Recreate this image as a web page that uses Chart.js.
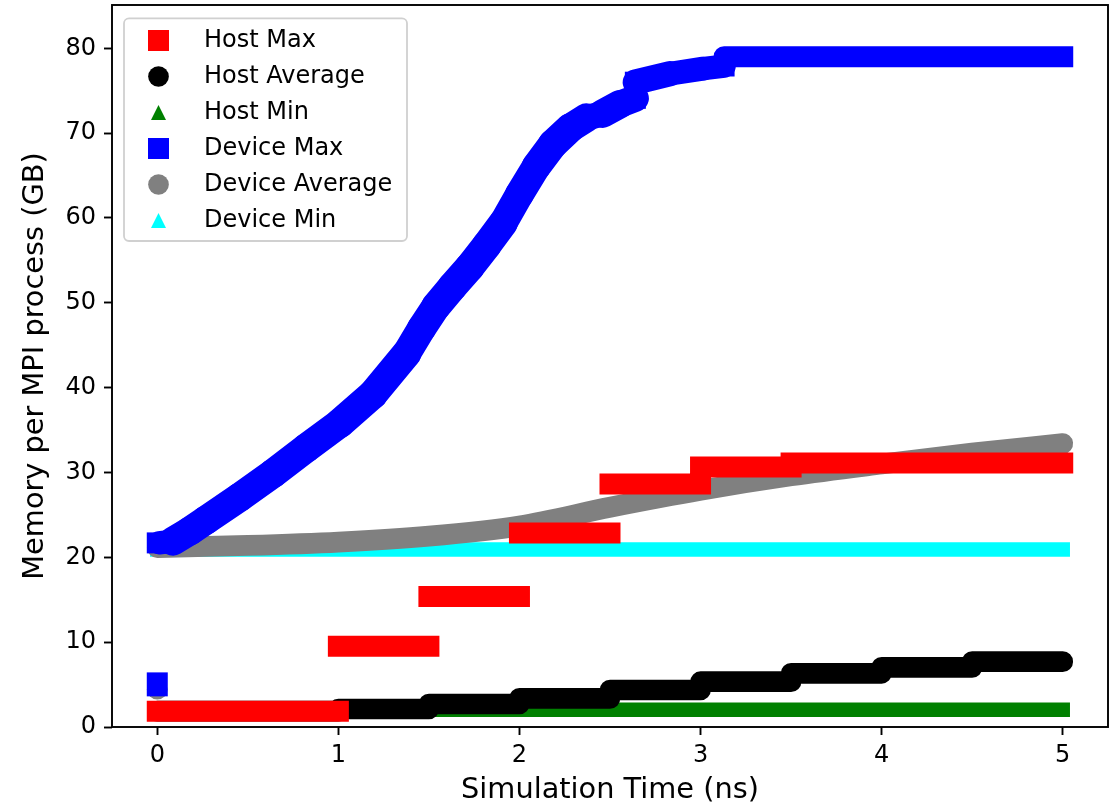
<!DOCTYPE html>
<html>
<head>
<meta charset="utf-8">
<script src="https://cdn.jsdelivr.net/npm/chart.js@4.4.1/dist/chart.umd.min.js"></script>
<style>
  html, body { margin: 0; padding: 0; background: #ffffff; }
  canvas { display: block; }
</style>
</head>
<body>
<canvas id="memChart" width="1114" height="808"></canvas>
<script>
// Memory per MPI process (GB) against simulation time (ns)

const xTicks = [0, 1, 2, 3, 4, 5];
const yTicks = [0, 10, 20, 30, 40, 50, 60, 70, 80];

// Host Max: value held over each [start, end] interval
const hostMaxStart = [0.0, 1.0, 1.5, 2.0, 2.5, 3.0, 3.5];
const hostMaxEnd   = [1.0, 1.5, 2.0, 2.5, 3.0, 3.5, 5.0];
const hostMaxGB    = [1.86, 9.53, 15.37, 22.86, 28.64, 30.65, 31.12];

// Host Average: value held over each interval
const hostAvgStart = [0.0, 1.0, 1.5, 2.0, 2.5, 3.0, 3.5, 4.0, 4.5];
const hostAvgEnd   = [1.0, 1.5, 2.0, 2.5, 3.0, 3.5, 4.0, 4.5, 5.0];
const hostAvgGB    = [1.86, 2.12, 2.71, 3.38, 4.36, 5.34, 6.33, 7.03, 7.70];

// Host Min
const hostMinStart = [0.0];
const hostMinEnd   = [5.0];
const hostMinGB    = [2.04];

// Device Max: initial samples at t = 0, then the run
const devMaxInitT  = [0.0, 0.0];
const devMaxInitGB = [4.85, 5.2];
const devMaxT  = [0.0, 0.01, 0.087, 0.18, 0.27, 0.456, 0.64, 0.824, 1.008, 1.19,
                  1.376, 1.46, 1.54, 1.63, 1.725, 1.82, 1.91, 2.0, 2.094, 2.185,
                  2.28, 2.37, 2.46, 2.554, 2.64, 2.64, 2.83, 3.014, 3.13, 3.13, 5.0];
const devMaxGB = [21.7, 21.7, 21.9, 23.1, 24.4, 27.1, 29.9, 32.9, 35.8, 39.2,
                  44.0, 47.0, 49.6, 51.9, 54.2, 56.8, 59.4, 62.8, 66.1, 68.7,
                  70.6, 71.8, 72.3, 73.4, 74.1, 76.0, 77.0, 77.6, 77.9, 79.0, 79.0];

// Device Average: initial sample at t = 0, then the run
const devAvgInitT  = [0.0];
const devAvgInitGB = [4.45];
const devAvgT  = [0.0, 0.5, 1.0, 1.5, 2.0, 2.5, 3.0, 3.5, 4.0, 4.5, 5.0];
const devAvgGB = [21.15, 21.4, 21.8, 22.5, 23.7, 25.9, 27.9, 29.6, 31.0, 32.3, 33.4];

// Device Min
const devMinStart = [0.0];
const devMinEnd   = [5.0];
const devMinGB    = [20.91];

const seriesLabels  = ['Host Max', 'Host Average', 'Host Min', 'Device Max', 'Device Average', 'Device Min'];
const seriesColors  = ['#ff0000', '#000000', '#008000', '#0000ff', '#808080', '#00ffff'];
const seriesMarkers = ['square', 'circle', 'triangle', 'square', 'circle', 'triangle'];

// Marker sizes in px
const SQUARE = 21;
const CIRCLE = 20.7;
const TRIANGLE = 14.5;

const FONT = '"DejaVu Sans", "Liberation Sans", sans-serif';
Chart.defaults.font.family = FONT;
Chart.defaults.font.size = 24;
Chart.defaults.color = '#000000';

// ---- build point lists ----
function steps(starts, ends, vals) {
  const pts = [];
  for (let i = 0; i < vals.length; i++) {
    pts.push({ x: starts[i], y: vals[i] });
    pts.push({ x: ends[i], y: vals[i] });
    pts.push({ x: ends[i], y: null });
  }
  return pts;
}
function trace(ts, vals) {
  return ts.map((t, i) => ({ x: t, y: vals[i] }));
}
function gap(pts) {
  const last = pts[pts.length - 1];
  return [...pts, { x: last.x, y: null }];
}

// isolated samples get a marker of their own
function isolatedRadius(r) {
  return ctx => {
    const d = ctx.dataset.data;
    const i = ctx.dataIndex;
    if (d[i] == null || d[i].y === null) return 0;
    const prev = d[i - 1], next = d[i + 1];
    const iso = (!prev || prev.y === null) && (!next || next.y === null);
    return iso ? r : 0;
  };
}

// a band of square markers is wider where it climbs
function squareBandWidth(ctx) {
  const dx = Math.abs(ctx.p1.x - ctx.p0.x);
  const dy = Math.abs(ctx.p1.y - ctx.p0.y);
  const len = Math.hypot(dx, dy);
  if (!len) return SQUARE;
  return SQUARE * (dx + dy) / len;
}
function squareBandCap(ctx) {
  const dx = Math.abs(ctx.p1.x - ctx.p0.x);
  const dy = Math.abs(ctx.p1.y - ctx.p0.y);
  return (dx < 0.5 || dy < 0.5) ? 'square' : 'round';
}

const datasets = [
  {
    label: seriesLabels[0],
    data: steps(hostMaxStart, hostMaxEnd, hostMaxGB),
    borderColor: seriesColors[0],
    backgroundColor: seriesColors[0],
    borderWidth: SQUARE,
    borderCapStyle: 'square',
    borderJoinStyle: 'miter'
  },
  {
    label: seriesLabels[1],
    data: steps(hostAvgStart, hostAvgEnd, hostAvgGB),
    borderColor: seriesColors[1],
    backgroundColor: seriesColors[1],
    borderWidth: CIRCLE,
    borderCapStyle: 'round',
    borderJoinStyle: 'round'
  },
  {
    label: seriesLabels[2],
    data: steps(hostMinStart, hostMinEnd, hostMinGB),
    borderColor: seriesColors[2],
    backgroundColor: seriesColors[2],
    borderWidth: TRIANGLE,
    borderCapStyle: 'square'
  },
  {
    label: seriesLabels[3],
    data: [...gap(trace(devMaxInitT, devMaxInitGB)), ...trace(devMaxT, devMaxGB)],
    borderColor: seriesColors[3],
    backgroundColor: seriesColors[3],
    borderWidth: SQUARE,
    borderCapStyle: 'square',
    borderJoinStyle: 'round',
    segment: { borderWidth: squareBandWidth, borderCapStyle: squareBandCap }
  },
  {
    label: seriesLabels[4],
    data: [...gap(trace(devAvgInitT, devAvgInitGB)), ...trace(devAvgT, devAvgGB)],
    borderColor: seriesColors[4],
    backgroundColor: seriesColors[4],
    borderWidth: CIRCLE,
    borderCapStyle: 'round',
    borderJoinStyle: 'round',
    cubicInterpolationMode: 'monotone',
    pointRadius: isolatedRadius(CIRCLE / 2),
    pointBorderWidth: 0,
    pointStyle: 'circle'
  },
  {
    label: seriesLabels[5],
    data: steps(devMinStart, devMinEnd, devMinGB),
    borderColor: seriesColors[5],
    backgroundColor: seriesColors[5],
    borderWidth: TRIANGLE,
    borderCapStyle: 'square'
  }
];

datasets.forEach(ds => {
  ds.showLine = true;
  ds.spanGaps = false;
  if (ds.pointRadius === undefined) ds.pointRadius = 0;
  ds.pointHoverRadius = 0;
});

// ---- plugins ----
const framePlugin = {
  id: 'frame',
  afterDatasetsDraw(chart) {
    const { ctx, chartArea: a } = chart;
    ctx.save();
    ctx.strokeStyle = '#000000';
    ctx.lineWidth = 1.9;
    ctx.strokeRect(a.left, a.top, a.right - a.left, a.bottom - a.top);
    ctx.restore();
  }
};

function drawMarker(ctx, kind, cx, cy, color) {
  ctx.fillStyle = color;
  ctx.beginPath();
  if (kind === 'square') {
    ctx.rect(cx - SQUARE / 2, cy - SQUARE / 2, SQUARE, SQUARE);
  } else if (kind === 'circle') {
    ctx.arc(cx, cy, CIRCLE / 2, 0, Math.PI * 2);
  } else {
    const h = 15;
    ctx.moveTo(cx, cy - h / 2);
    ctx.lineTo(cx + h / 2, cy + h / 2);
    ctx.lineTo(cx - h / 2, cy + h / 2);
    ctx.closePath();
  }
  ctx.fill();
}

const legendPlugin = {
  id: 'boxLegend',
  afterDraw(chart) {
    const { ctx, chartArea: a } = chart;
    const x0 = a.left + 12, y0 = a.top + 13.3;
    const w = 283, h = 222.7, r = 5;
    ctx.save();
    ctx.beginPath();
    ctx.moveTo(x0 + r, y0);
    ctx.arcTo(x0 + w, y0, x0 + w, y0 + h, r);
    ctx.arcTo(x0 + w, y0 + h, x0, y0 + h, r);
    ctx.arcTo(x0, y0 + h, x0, y0, r);
    ctx.arcTo(x0, y0, x0 + w, y0, r);
    ctx.closePath();
    ctx.fillStyle = 'rgba(255,255,255,0.8)';
    ctx.fill();
    ctx.strokeStyle = '#d0d0d0';
    ctx.lineWidth = 1.8;
    ctx.stroke();

    ctx.font = '24px ' + FONT;
    ctx.textAlign = 'left';
    ctx.textBaseline = 'alphabetic';
    chart.data.datasets.forEach((ds, i) => {
      const cy = y0 + 22.2 + 36 * i;
      drawMarker(ctx, seriesMarkers[i], x0 + 34.5, cy, ds.borderColor);
      ctx.fillStyle = '#000000';
      ctx.fillText(ds.label, x0 + 80, cy + 6.5);
    });
    ctx.restore();
  }
};

const axisGrid = {
  display: true,
  drawOnChartArea: false,
  drawTicks: true,
  tickLength: 8,
  tickWidth: 1.9,
  tickColor: '#000000',
  color: '#000000'
};

function noScalePadding(s) {
  s.paddingTop = 0;
  s.paddingBottom = 0;
  s.paddingLeft = 0;
  s.paddingRight = 0;
}

new Chart(document.getElementById('memChart'), {
  type: 'scatter',
  data: { datasets },
  plugins: [framePlugin, legendPlugin],
  options: {
    responsive: false,
    animation: false,
    devicePixelRatio: 1,
    layout: { autoPadding: false, padding: { top: 5, right: 6, left: 0, bottom: 0 } },
    plugins: {
      legend: { display: false },
      tooltip: { enabled: false }
    },
    scales: {
      x: {
        type: 'linear',
        min: -0.25,
        max: 5.25,
        grid: axisGrid,
        border: { display: false },
        afterBuildTicks: s => { s.ticks = xTicks.map(v => ({ value: v })); },
        afterFit: s => { s.height = 81; noScalePadding(s); },
        ticks: {
          color: '#000000',
          padding: 6,
          maxRotation: 0,
          font: { family: FONT, size: 24 },
          callback: v => String(v)
        },
        title: {
          display: true,
          text: 'Simulation Time (ns)',
          color: '#000000',
          font: { family: FONT, size: 28.8 },
          padding: { top: 0, bottom: 0 }
        }
      },
      y: {
        type: 'linear',
        min: 0,
        max: 85.1,
        grid: axisGrid,
        border: { display: false },
        afterBuildTicks: s => { s.ticks = yTicks.map(v => ({ value: v })); },
        afterFit: s => { s.width = 112; noScalePadding(s); },
        ticks: {
          color: '#000000',
          padding: 8,
          font: { family: FONT, size: 24 },
          callback: v => String(v)
        },
        title: {
          display: true,
          text: 'Memory per MPI process (GB)',
          color: '#000000',
          font: { family: FONT, size: 28.8 },
          padding: { top: 18, bottom: 0 }
        }
      }
    }
  }
});
</script>
</body>
</html>
